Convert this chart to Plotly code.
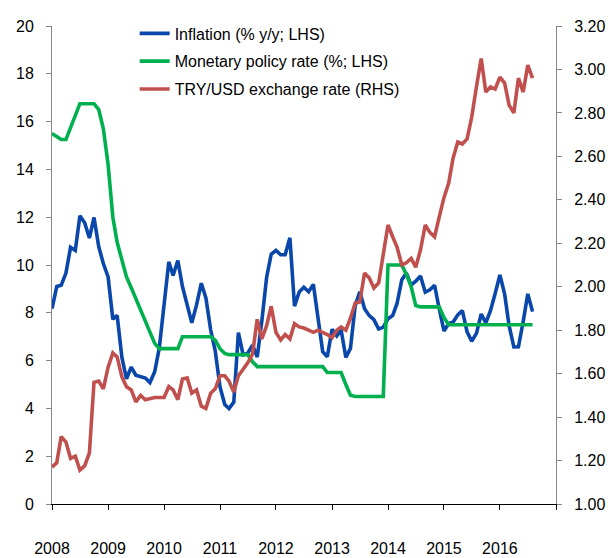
import pandas as pd
import plotly.graph_objects as go

months = pd.date_range("2008-01-01", periods=104, freq="MS")

inflation = [
    8.17, 9.10, 9.15, 9.66, 10.74, 10.61, 12.06, 11.77, 11.13, 11.99, 10.76, 10.06,
    9.50, 7.73, 7.89, 6.13, 5.24, 5.73, 5.39, 5.33, 5.27, 5.08, 5.53, 6.53,
    8.19, 10.13, 9.56, 10.19, 9.10, 8.37, 7.58, 8.33, 9.24, 8.62, 7.29, 6.40,
    4.90, 4.16, 3.99, 4.26, 7.17, 6.24, 6.31, 6.65, 6.15, 7.66, 9.48, 10.45,
    10.61, 10.43, 10.43, 11.14, 8.28, 8.87, 9.07, 8.88, 9.19, 7.80, 6.37, 6.16,
    7.31, 7.03, 7.29, 6.13, 6.51, 8.30, 8.88, 8.17, 7.88, 7.71, 7.32, 7.40,
    7.75, 7.89, 8.39, 9.38, 9.66, 9.16, 9.32, 9.54, 8.86, 8.96, 9.15, 8.17,
    7.24, 7.55, 7.61, 7.91, 8.09, 7.20, 6.81, 7.14, 7.95, 7.58, 8.10, 8.81,
    9.58, 8.78, 7.46, 6.57, 6.58, 7.64, 8.79, 8.05,
]

policy_rate = [
    15.50, 15.35, 15.25, 15.25, 15.75, 16.25, 16.75, 16.75, 16.75, 16.75, 16.50, 15.70,
    14.20, 12.00, 10.95, 10.20, 9.50, 9.05, 8.60, 8.10, 7.65, 7.15, 6.72, 6.50,
    6.50, 6.50, 6.50, 6.50, 7.00, 7.00, 7.00, 7.00, 7.00, 7.00, 7.00, 6.85,
    6.50, 6.30, 6.25, 6.25, 6.25, 6.25, 6.25, 5.95, 5.75, 5.75, 5.75, 5.75,
    5.75, 5.75, 5.75, 5.75, 5.75, 5.75, 5.75, 5.75, 5.75, 5.75, 5.75, 5.50,
    5.50, 5.50, 5.50, 5.00, 4.55, 4.50, 4.50, 4.50, 4.50, 4.50, 4.50, 4.50,
    10.00, 10.00, 10.00, 10.00, 9.60, 9.10, 8.30, 8.25, 8.25, 8.25, 8.25, 8.25,
    7.80, 7.50, 7.50, 7.50, 7.50, 7.50, 7.50, 7.50, 7.50, 7.50, 7.50, 7.50,
    7.50, 7.50, 7.50, 7.50, 7.50, 7.50, 7.50, 7.50,
]

try_usd = [
    1.17, 1.19, 1.31, 1.285, 1.21, 1.22, 1.156, 1.175, 1.235, 1.56, 1.566, 1.53,
    1.63, 1.695, 1.677, 1.585, 1.54, 1.525, 1.47, 1.50, 1.48, 1.485, 1.49, 1.49,
    1.49, 1.54, 1.525, 1.48, 1.575, 1.58, 1.51, 1.525, 1.45, 1.44, 1.51, 1.53,
    1.59, 1.59, 1.565, 1.515, 1.59, 1.62, 1.65, 1.69, 1.85, 1.76, 1.82, 1.91,
    1.79, 1.755, 1.78, 1.76, 1.83, 1.815, 1.81, 1.80, 1.79, 1.80, 1.79, 1.78,
    1.765, 1.80, 1.815, 1.80, 1.855, 1.925, 1.93, 2.063, 2.04, 1.994, 2.017, 2.15,
    2.284, 2.229, 2.183, 2.10, 2.11, 2.13, 2.09, 2.17, 2.284, 2.25, 2.23, 2.32,
    2.41, 2.477, 2.59, 2.666, 2.657, 2.68, 2.78, 2.92, 3.05, 2.896, 2.92, 2.91,
    2.965, 2.937, 2.836, 2.80, 2.96, 2.896, 3.02, 2.96,
]

year_ticks = [f"{y}-01-01" for y in range(2008, 2018)]
year_labels = [str(y) for y in range(2008, 2017)] + [""]

FONT = "Liberation Sans, Arial, sans-serif"

fig = go.Figure()
fig.add_trace(go.Scatter(x=months, y=inflation, mode="lines", name="Inflation (% y/y; LHS)",
                         line=dict(color="#0A47AB", width=3.6), legendgroup="a"))
fig.add_trace(go.Scatter(x=months, y=policy_rate, mode="lines", name="Monetary policy rate (%; LHS)",
                         line=dict(color="#00B04F", width=3.6), legendgroup="b"))
fig.add_trace(go.Scatter(x=months, y=try_usd, mode="lines", name="TRY/USD exchange rate (RHS)",
                         line=dict(color="#C0504D", width=3.6), legendgroup="c", yaxis="y2"))

fig.update_layout(
    width=613, height=558,
    margin=dict(l=52, r=57, t=26, b=54, autoexpand=False),
    paper_bgcolor="white", plot_bgcolor="white",
    font=dict(family=FONT, size=16, color="#000000"),
    showlegend=True,
    legend=dict(x=0.164, y=1.02, xanchor="left", yanchor="top", bgcolor="rgba(0,0,0,0)",
                font=dict(size=16), tracegroupgap=4),
    xaxis=dict(type="date", range=["2008-01-01", "2017-01-01"], tickvals=year_ticks, ticktext=year_labels,
               showgrid=False, zeroline=False, showline=True, linecolor="#000000", linewidth=1,
               ticks="outside", ticklen=5, tickcolor="#000000", ticklabelstandoff=25,
               automargin=False),
    yaxis=dict(range=[0, 20], dtick=2, showgrid=False, zeroline=False, showline=True,
               linecolor="#888888", linewidth=1, ticks="outside", ticklen=5, tickcolor="#888888",
               ticklabelstandoff=9, automargin=False),
    yaxis2=dict(range=[1.0, 3.2], dtick=0.2, tickformat=".2f", overlaying="y", side="right",
                showgrid=False, zeroline=False, showline=True, linecolor="#888888", linewidth=1,
                ticks="outside", ticklen=5, tickcolor="#888888", ticklabelstandoff=9,
                automargin=False),
)

fig.write_html("out.html", config={"displayModeBar": False},
               post_script="document.body.style.margin='0px';")
